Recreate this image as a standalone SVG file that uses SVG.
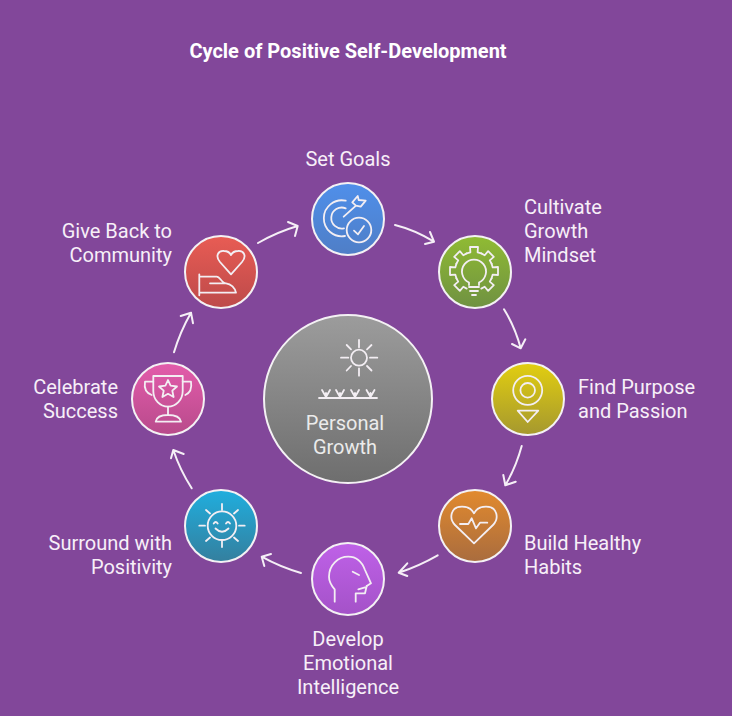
<svg xmlns="http://www.w3.org/2000/svg" xmlns:xlink="http://www.w3.org/1999/xlink" width="732" height="716" viewBox="0 0 732 716">
<style>
text{font-family:Roboto,"Liberation Sans",sans-serif;font-size:20px;fill:#f7eff8}
.t{font-weight:700;font-size:20px;fill:#fff}
.m{text-anchor:middle}.e{text-anchor:end}
.n{stroke:#f4f1f4;stroke-width:2}
.i{fill:none;stroke:#f3eef3;stroke-width:1.800;stroke-linecap:round;stroke-linejoin:round}
.c{fill:none;stroke:#f5eff6;stroke-width:2;stroke-linecap:round;stroke-linejoin:round}
</style>
<defs>
<linearGradient id="gb" x1="0" y1="0" x2="0" y2="1"><stop offset="0" stop-color="#4f8fea"/><stop offset="1" stop-color="#4f7ec6"/></linearGradient>
<linearGradient id="gg" x1="0" y1="0" x2="0" y2="1"><stop offset="0" stop-color="#90bb33"/><stop offset="1" stop-color="#6f9142"/></linearGradient>
<linearGradient id="gy" x1="0" y1="0" x2="0" y2="1"><stop offset="0" stop-color="#e2ce10"/><stop offset="1" stop-color="#a5982f"/></linearGradient>
<linearGradient id="go" x1="0" y1="0" x2="0" y2="1"><stop offset="0" stop-color="#e28a2e"/><stop offset="1" stop-color="#a96c3e"/></linearGradient>
<linearGradient id="gp" x1="0" y1="0" x2="0" y2="1"><stop offset="0" stop-color="#bf61e8"/><stop offset="1" stop-color="#a452c8"/></linearGradient>
<linearGradient id="gt" x1="0" y1="0" x2="0" y2="1"><stop offset="0" stop-color="#20aede"/><stop offset="1" stop-color="#347f9e"/></linearGradient>
<linearGradient id="gk" x1="0" y1="0" x2="0" y2="1"><stop offset="0" stop-color="#e35cab"/><stop offset="1" stop-color="#b84a8b"/></linearGradient>
<linearGradient id="gr" x1="0" y1="0" x2="0" y2="1"><stop offset="0" stop-color="#e85c54"/><stop offset="1" stop-color="#bd4a4a"/></linearGradient>
<linearGradient id="gc" x1="0" y1="0" x2="0" y2="1"><stop offset="0" stop-color="#9c9c9c"/><stop offset="1" stop-color="#6e6e6e"/></linearGradient>
<path id="tooth" d="M-7.300-17.600L-3.600-18.700L-4-24H4L3.600-18.700L7.300-17.600"/>
</defs>
<rect id="background" width="732" height="716" fill="#82479a"/>
<text class="t m" x="348" y="58">Cycle of Positive Self-Development</text>

<g id="connectors" class="c">
<path d="M258 243Q277 232 297.700 226M288 222L297.700 226L295 236"/>
<path d="M395 225Q415 230 434 241.700M430 232L434 241.700L425 244"/>
<path d="M504 309.300Q515 327 520.700 348.300M512 344L520.700 348.300L525.300 339.300"/>
<path d="M521.700 446Q516 467 505.300 485.300M503.300 475L505.300 485.300L515.700 481.700"/>
<path d="M437.700 555.300Q419 566 398.700 572.700M407.300 563.300L398.700 572.700L407.300 576"/>
<path d="M301 573Q280 567 261.700 556.700M271 554L261.700 556.700L264.300 566"/>
<path d="M191.700 488.300Q180 470 173.300 450M183.700 454L173.300 450L171 458.300"/>
<path d="M174 352.300Q180 332 191 312.700M180.700 316L191 312.700L193 323.300"/>
</g>

<g id="node-center">
<circle class="n" cx="348" cy="399" r="84" fill="url(#gc)"/>
<g class="i">
<circle cx="359" cy="357.700" r="8"/>
<path d="M359 340V347.300M359 368.300V375.700M341 357.700H348.300M370 357.700H377.300M346.700 345L351 349.300M367 366L371.500 370.500M371.500 345L367 349.300M351 366L346.700 370.500"/>
<path d="M319 398H377M322 390L326 397L330 390M326 393V397M336 390L340 397L344 390M340 393V397M351 390L355 397L359 390M355 393V397M366.500 390L370.500 397L374.500 390M370.500 393V397"/>
</g>
<text class="m" x="345" y="430" style="fill:#ebebeb">Personal</text>
<text class="m" x="345" y="454" style="fill:#ebebeb">Growth</text>
</g>

<g id="node-set-goals">
<circle class="n" cx="348" cy="219" r="36" fill="url(#gb)"/>
<g class="i">
<path d="M345.700 200.700A18 18 0 1 0 345 236M345.700 208.300A10.500 10.500 0 1 0 344 228.300"/>
<path d="M343.700 216.700L356 205.700M352.300 202.300L357.700 196L358.700 200L365.700 200.700L360.700 206.700L356 205.700Z"/>
<circle cx="359" cy="230" r="12.300"/>
<path d="M354 230.700L358 234.300L364 226"/>
</g>
<text class="m" x="348" y="166">Set Goals</text>
</g>

<g id="node-cultivate">
<circle class="n" cx="475" cy="272" r="36" fill="url(#gg)"/>
<g class="i">
<g transform="translate(474 271)">
<use xlink:href="#tooth" href="#tooth"/>
<use xlink:href="#tooth" href="#tooth" transform="rotate(45)"/>
<use xlink:href="#tooth" href="#tooth" transform="rotate(90)"/>
<use xlink:href="#tooth" href="#tooth" transform="rotate(135)"/>
<use xlink:href="#tooth" href="#tooth" transform="rotate(225)"/>
<use xlink:href="#tooth" href="#tooth" transform="rotate(270)"/>
<use xlink:href="#tooth" href="#tooth" transform="rotate(315)"/>
</g>
<path d="M469 285V282.500A12 12 0 1 1 479 282.500V285"/>
<path d="M469 287H479M470 291H478M472 295H476"/>
</g>
<text x="524" y="214">Cultivate</text><text x="524" y="238">Growth</text><text x="524" y="262">Mindset</text>
</g>

<g id="node-purpose">
<circle class="n" cx="528" cy="399" r="36" fill="url(#gy)"/>
<g class="i">
<circle cx="527.700" cy="390.300" r="14.500"/>
<circle cx="527.700" cy="390.300" r="7.300"/>
<path d="M517.700 410.700H538.300L527.700 422Z"/>
</g>
<text x="578" y="394">Find Purpose</text><text x="578" y="418">and Passion</text>
</g>

<g id="node-habits">
<circle class="n" cx="475" cy="526" r="36" fill="url(#go)"/>
<g class="i">
<path d="M474 543.300L455 525C449 519 450 506.700 462 506.700C468 506.700 472 509.500 474 513.300C476 509.500 480 506.700 486 506.700C498 506.700 499 519 493 525Z"/>
<path d="M460 524H468.300L471.700 518.300L476 528.300L480 522.700H487.300"/>
</g>
<text x="524" y="550">Build Healthy</text><text x="524" y="574">Habits</text>
</g>

<g id="node-emotional">
<circle class="n" cx="348" cy="579" r="36" fill="url(#gp)"/>
<g class="i">
<path d="M334.700 601.700V589.300C330 584 329 580 329 576.700C329 565 338 556.700 348.300 556.700C357 556.700 362 562 365 570L371 583.300L366.700 586"/>
<path d="M366.700 586L365 593.300H355.700V601.700M358.300 589.300L365 587.300M352.700 571.700L359 575"/>
</g>
<text class="m" x="348" y="646">Develop</text><text class="m" x="348" y="670">Emotional</text><text class="m" x="348" y="694">Intelligence</text>
</g>

<g id="node-positivity">
<circle class="n" cx="221" cy="526" r="36" fill="url(#gt)"/>
<g class="i">
<circle cx="222" cy="525.700" r="14.300"/>
<path d="M222 504V510M222 541V547M199.300 525.700H205M239 525.700H244.700M206 510L210 513.500M238 510L234 513.500M206 541L210 537.500M238 541L234 537.500"/>
<path d="M213.700 523.500Q215.700 520.500 217.700 523.500M226 523.500Q228 520.500 230 523.500M215.500 528.500Q222 535 228.500 528.500"/>
</g>
<text class="e" x="172" y="550">Surround with</text><text class="e" x="172" y="574">Positivity</text>
</g>

<g id="node-success">
<circle class="n" cx="168" cy="399" r="36" fill="url(#gk)"/>
<g class="i">
<path d="M153.300 376H182.700V391C182.700 400 176 406.700 168 406.700C160 406.700 153.300 400 153.300 391Z"/>
<path d="M153.300 381.700H145C144 388 146 393 151.700 395M182.700 381.700H191C192 388 190 393 185.300 395"/>
<path d="M168 406.700V415M155.700 421.700H181C180 417 175 415 168 415C161 415 156.500 417 155.700 421.700Z"/>
<path d="M168 380L170.600 385.700L177 386.500L172.300 390.700L173.600 397L168 393.800L162.400 397L163.700 390.700L159 386.500L165.400 385.700Z"/>
</g>
<text class="e" x="118" y="394">Celebrate</text><text class="e" x="118" y="418">Success</text>
</g>

<g id="node-community">
<circle class="n" cx="221" cy="272" r="36" fill="url(#gr)"/>
<g class="i">
<path d="M231 274.300L220 262C215 256 218 250.500 224 251C228 251 230 253 231 255C232 253 234 251 238 251C244 250.500 247 256 242 262Z"/>
<path d="M199.300 274.300V295.300M199.300 276.700H216.700C220 276.700 222 283.300 226 283.300C231 283.800 235 288 236 292.700H199.300M210 283.300H226"/>
</g>
<text class="e" x="172" y="238">Give Back to</text><text class="e" x="172" y="262">Community</text>
</g>
</svg>
